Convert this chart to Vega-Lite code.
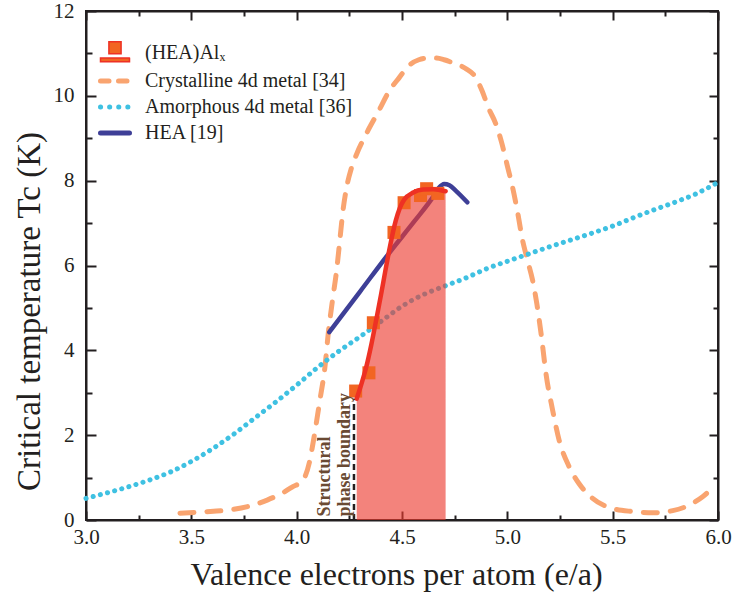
{
  "$schema": "https://vega.github.io/schema/vega-lite/v6.json",
  "width": 632,
  "height": 509,
  "autosize": {"type": "none"},
  "padding": {"left": 86, "top": 11, "right": 14, "bottom": 74},
  "background": "white",
  "config": {
    "view": {"stroke": "#231F20", "strokeWidth": 2},
    "font": "Liberation Serif",
    "axis": {
      "grid": false,
      "domainColor": "#231F20",
      "domainWidth": 2,
      "tickColor": "#231F20",
      "tickWidth": 2,
      "labelFont": "Liberation Serif",
      "labelFontSize": 21,
      "labelColor": "#231F20",
      "labelFlush": false,
      "labelOverlap": false,
      "titleFont": "Liberation Serif",
      "titleFontSize": 30,
      "titleFontWeight": "normal",
      "titleColor": "#231F20"
    }
  },
  "datasets": {
    "curves": [
      {"series": "Crystalline 4d metal [34]", "x": 3.446, "y": 0.16},
      {"series": "Crystalline 4d metal [34]", "x": 3.55, "y": 0.19},
      {"series": "Crystalline 4d metal [34]", "x": 3.7, "y": 0.25},
      {"series": "Crystalline 4d metal [34]", "x": 3.8, "y": 0.36},
      {"series": "Crystalline 4d metal [34]", "x": 3.86, "y": 0.47},
      {"series": "Crystalline 4d metal [34]", "x": 3.93, "y": 0.63},
      {"series": "Crystalline 4d metal [34]", "x": 3.98, "y": 0.78},
      {"series": "Crystalline 4d metal [34]", "x": 4.03, "y": 0.94},
      {"series": "Crystalline 4d metal [34]", "x": 4.06, "y": 1.35},
      {"series": "Crystalline 4d metal [34]", "x": 4.08, "y": 1.88},
      {"series": "Crystalline 4d metal [34]", "x": 4.11, "y": 2.82},
      {"series": "Crystalline 4d metal [34]", "x": 4.134, "y": 3.6},
      {"series": "Crystalline 4d metal [34]", "x": 4.15, "y": 4.4},
      {"series": "Crystalline 4d metal [34]", "x": 4.17, "y": 5.18},
      {"series": "Crystalline 4d metal [34]", "x": 4.19, "y": 5.9},
      {"series": "Crystalline 4d metal [34]", "x": 4.205, "y": 6.6},
      {"series": "Crystalline 4d metal [34]", "x": 4.22, "y": 7.3},
      {"series": "Crystalline 4d metal [34]", "x": 4.237, "y": 7.84},
      {"series": "Crystalline 4d metal [34]", "x": 4.26, "y": 8.3},
      {"series": "Crystalline 4d metal [34]", "x": 4.285, "y": 8.63},
      {"series": "Crystalline 4d metal [34]", "x": 4.33, "y": 9.1},
      {"series": "Crystalline 4d metal [34]", "x": 4.39, "y": 9.65},
      {"series": "Crystalline 4d metal [34]", "x": 4.44, "y": 10.12},
      {"series": "Crystalline 4d metal [34]", "x": 4.487, "y": 10.43},
      {"series": "Crystalline 4d metal [34]", "x": 4.534, "y": 10.72},
      {"series": "Crystalline 4d metal [34]", "x": 4.58, "y": 10.85},
      {"series": "Crystalline 4d metal [34]", "x": 4.62, "y": 10.89},
      {"series": "Crystalline 4d metal [34]", "x": 4.66, "y": 10.89},
      {"series": "Crystalline 4d metal [34]", "x": 4.7, "y": 10.85},
      {"series": "Crystalline 4d metal [34]", "x": 4.74, "y": 10.78},
      {"series": "Crystalline 4d metal [34]", "x": 4.8, "y": 10.65},
      {"series": "Crystalline 4d metal [34]", "x": 4.85, "y": 10.43},
      {"series": "Crystalline 4d metal [34]", "x": 4.88, "y": 10.12},
      {"series": "Crystalline 4d metal [34]", "x": 4.91, "y": 9.72},
      {"series": "Crystalline 4d metal [34]", "x": 4.946, "y": 9.33},
      {"series": "Crystalline 4d metal [34]", "x": 4.975, "y": 8.86},
      {"series": "Crystalline 4d metal [34]", "x": 5.0, "y": 8.35},
      {"series": "Crystalline 4d metal [34]", "x": 5.025, "y": 7.84},
      {"series": "Crystalline 4d metal [34]", "x": 5.05, "y": 7.22},
      {"series": "Crystalline 4d metal [34]", "x": 5.07, "y": 6.65},
      {"series": "Crystalline 4d metal [34]", "x": 5.096, "y": 6.12},
      {"series": "Crystalline 4d metal [34]", "x": 5.12, "y": 5.65},
      {"series": "Crystalline 4d metal [34]", "x": 5.14, "y": 5.1},
      {"series": "Crystalline 4d metal [34]", "x": 5.16, "y": 4.4},
      {"series": "Crystalline 4d metal [34]", "x": 5.185, "y": 3.4},
      {"series": "Crystalline 4d metal [34]", "x": 5.215, "y": 2.59},
      {"series": "Crystalline 4d metal [34]", "x": 5.246, "y": 1.88},
      {"series": "Crystalline 4d metal [34]", "x": 5.294, "y": 1.25},
      {"series": "Crystalline 4d metal [34]", "x": 5.34, "y": 0.86},
      {"series": "Crystalline 4d metal [34]", "x": 5.405, "y": 0.51},
      {"series": "Crystalline 4d metal [34]", "x": 5.5, "y": 0.27},
      {"series": "Crystalline 4d metal [34]", "x": 5.594, "y": 0.2},
      {"series": "Crystalline 4d metal [34]", "x": 5.69, "y": 0.17},
      {"series": "Crystalline 4d metal [34]", "x": 5.785, "y": 0.22},
      {"series": "Crystalline 4d metal [34]", "x": 5.863, "y": 0.35},
      {"series": "Crystalline 4d metal [34]", "x": 5.927, "y": 0.55},
      {"series": "Crystalline 4d metal [34]", "x": 5.974, "y": 0.75},
      {"series": "Amorphous 4d metal [36]", "x": 3.0, "y": 0.51},
      {"series": "Amorphous 4d metal [36]", "x": 3.1, "y": 0.64},
      {"series": "Amorphous 4d metal [36]", "x": 3.2, "y": 0.78},
      {"series": "Amorphous 4d metal [36]", "x": 3.3, "y": 0.94},
      {"series": "Amorphous 4d metal [36]", "x": 3.4, "y": 1.13},
      {"series": "Amorphous 4d metal [36]", "x": 3.5, "y": 1.38},
      {"series": "Amorphous 4d metal [36]", "x": 3.6, "y": 1.68},
      {"series": "Amorphous 4d metal [36]", "x": 3.7, "y": 2.02},
      {"series": "Amorphous 4d metal [36]", "x": 3.8, "y": 2.4},
      {"series": "Amorphous 4d metal [36]", "x": 3.9, "y": 2.78},
      {"series": "Amorphous 4d metal [36]", "x": 4.0, "y": 3.18},
      {"series": "Amorphous 4d metal [36]", "x": 4.1, "y": 3.6},
      {"series": "Amorphous 4d metal [36]", "x": 4.2, "y": 3.98},
      {"series": "Amorphous 4d metal [36]", "x": 4.3, "y": 4.32},
      {"series": "Amorphous 4d metal [36]", "x": 4.4, "y": 4.68},
      {"series": "Amorphous 4d metal [36]", "x": 4.5, "y": 5.04},
      {"series": "Amorphous 4d metal [36]", "x": 4.6, "y": 5.31},
      {"series": "Amorphous 4d metal [36]", "x": 4.7, "y": 5.51},
      {"series": "Amorphous 4d metal [36]", "x": 4.8, "y": 5.7},
      {"series": "Amorphous 4d metal [36]", "x": 4.9, "y": 5.92},
      {"series": "Amorphous 4d metal [36]", "x": 5.0, "y": 6.1},
      {"series": "Amorphous 4d metal [36]", "x": 5.1, "y": 6.27},
      {"series": "Amorphous 4d metal [36]", "x": 5.2, "y": 6.44},
      {"series": "Amorphous 4d metal [36]", "x": 5.3, "y": 6.6},
      {"series": "Amorphous 4d metal [36]", "x": 5.4, "y": 6.76},
      {"series": "Amorphous 4d metal [36]", "x": 5.5, "y": 6.93},
      {"series": "Amorphous 4d metal [36]", "x": 5.6, "y": 7.13},
      {"series": "Amorphous 4d metal [36]", "x": 5.7, "y": 7.32},
      {"series": "Amorphous 4d metal [36]", "x": 5.8, "y": 7.5},
      {"series": "Amorphous 4d metal [36]", "x": 5.9, "y": 7.7},
      {"series": "Amorphous 4d metal [36]", "x": 6.0, "y": 7.96},
      {"series": "HEA [19]", "x": 4.155, "y": 4.43},
      {"series": "HEA [19]", "x": 4.3, "y": 5.38},
      {"series": "HEA [19]", "x": 4.44, "y": 6.3},
      {"series": "HEA [19]", "x": 4.56, "y": 7.05},
      {"series": "HEA [19]", "x": 4.645, "y": 7.6},
      {"series": "HEA [19]", "x": 4.675, "y": 7.83},
      {"series": "HEA [19]", "x": 4.7, "y": 7.92},
      {"series": "HEA [19]", "x": 4.725, "y": 7.89},
      {"series": "HEA [19]", "x": 4.756, "y": 7.76},
      {"series": "HEA [19]", "x": 4.81, "y": 7.49}
    ],
    "fit": [
      {"series": "(HEA)Alₓ", "x": 4.285, "y": 2.86},
      {"series": "(HEA)Alₓ", "x": 4.31, "y": 3.25},
      {"series": "(HEA)Alₓ", "x": 4.33, "y": 3.6},
      {"series": "(HEA)Alₓ", "x": 4.355, "y": 4.15},
      {"series": "(HEA)Alₓ", "x": 4.38, "y": 4.78},
      {"series": "(HEA)Alₓ", "x": 4.4, "y": 5.3},
      {"series": "(HEA)Alₓ", "x": 4.42, "y": 5.85},
      {"series": "(HEA)Alₓ", "x": 4.443, "y": 6.45},
      {"series": "(HEA)Alₓ", "x": 4.47, "y": 7.05},
      {"series": "(HEA)Alₓ", "x": 4.49, "y": 7.36},
      {"series": "(HEA)Alₓ", "x": 4.51, "y": 7.55},
      {"series": "(HEA)Alₓ", "x": 4.553, "y": 7.72},
      {"series": "(HEA)Alₓ", "x": 4.6, "y": 7.79},
      {"series": "(HEA)Alₓ", "x": 4.65, "y": 7.8},
      {"series": "(HEA)Alₓ", "x": 4.707, "y": 7.75}
    ],
    "samples": [
      {"x": 4.28, "y": 3.04},
      {"x": 4.343, "y": 3.47},
      {"x": 4.364, "y": 4.65},
      {"x": 4.462, "y": 6.78},
      {"x": 4.51, "y": 7.48},
      {"x": 4.588, "y": 7.65},
      {"x": 4.617, "y": 7.81},
      {"x": 4.67, "y": 7.7}
    ],
    "boundary": [{"x": 4.272, "y": 0, "y2": 2.86}],
    "note": [{"x": 4.09, "y": 0.08, "label": ["Structural", "phase boundary"]}]
  },
  "resolve": {"axis": {"x": "independent", "y": "independent"}},
  "layer": [
    {
      "data": {"name": "curves"},
      "transform": [{"filter": "datum.series === 'Crystalline 4d metal [34]'"}],
      "mark": {"type": "line", "strokeWidth": 5, "strokeDash": [14, 13], "strokeCap": "round", "interpolate": "monotone"},
      "encoding": {
        "x": {
          "field": "x", "type": "quantitative",
          "scale": {"domain": [3, 6], "nice": false, "zero": false},
          "axis": {
            "orient": "bottom",
            "values": [3, 3.25, 3.5, 3.75, 4, 4.25, 4.5, 4.75, 5, 5.25, 5.5, 5.75, 6],
            "labelExpr": "datum.value % 0.5 === 0 ? format(datum.value, '.1f') : ''",
            "tickSize": {"condition": {"test": "datum.value % 0.5 === 0", "value": -9}, "value": -5},
            "labelPadding": 15,
            "labelFont": "Liberation Serif",
            "labelFontSize": 21,
            "titleFont": "Liberation Serif",
            "titleFontSize": 32,
            "title": "Valence electrons per atom (e/a)",
            "titlePadding": 8,
            "titleX": 310
          }
        },
        "y": {
          "field": "y", "type": "quantitative",
          "scale": {"domain": [0, 12], "nice": false, "zero": false},
          "axis": {
            "orient": "left",
            "values": [0, 1, 2, 3, 4, 5, 6, 7, 8, 9, 10, 11, 12],
            "labelExpr": "datum.value % 2 === 0 ? format(datum.value, 'd') : ''",
            "tickSize": {"condition": {"test": "datum.value % 2 === 0", "value": -10}, "value": -6},
            "labelPadding": 22,
            "labelFont": "Liberation Serif",
            "labelFontSize": 21,
            "titleFont": "Liberation Serif",
            "titleFontSize": 33,
            "title": "Critical temperature Tc (K)",
            "titlePadding": 7,
            "titleY": 300
          }
        },
        "color": {
          "field": "series", "type": "nominal",
          "scale": {
            "domain": ["(HEA)Alₓ", "Crystalline 4d metal [34]", "Amorphous 4d metal [36]", "HEA [19]"],
            "range": ["#EE3124", "#F9A470", "#3FC1E2", "#3E3F97"]
          },
          "legend": {
            "orient": "none",
            "legendX": 19,
            "legendY": 32,
            "title": null,
            "padding": 0,
            "symbolType": "stroke",
            "symbolSize": 841,
            "symbolStrokeWidth": 5,
            "labelFont": "Liberation Serif",
            "labelFontSize": 20,
            "labelColor": "#231F20",
            "labelOffset": 20,
            "labelLimit": 400,
            "rowPadding": 6,
            "encode": {
              "symbols": {
                "update": {
                  "shape": {"signal": "datum.value === '(HEA)Alₓ' ? 'M-1,0.34H1V0.6H-1Z M-0.42,-0.78H0.42V0.06H-0.42Z' : 'stroke'"},
                  "fill": {"signal": "datum.value === '(HEA)Alₓ' ? '#F26522' : 'transparent'"},
                  "strokeWidth": {"signal": "datum.value === '(HEA)Alₓ' ? 1.5 : 5"},
                  "strokeDash": {"signal": "datum.value === 'Crystalline 4d metal [34]' ? [8.5, 9.5] : (datum.value === 'Amorphous 4d metal [36]' ? [0.1, 9] : [1, 0])"},
                  "strokeCap": {"value": "round"}
                }
              }
            }
          }
        }
      }
    },
    {
      "data": {"name": "curves"},
      "transform": [{"filter": "datum.series === 'Amorphous 4d metal [36]'"}],
      "mark": {"type": "line", "strokeWidth": 5, "strokeDash": [0.1, 7.3], "strokeCap": "round", "interpolate": "monotone"},
      "encoding": {
        "x": {"field": "x", "type": "quantitative", "scale": {"domain": [3, 6], "nice": false, "zero": false}, "axis": null},
        "y": {"field": "y", "type": "quantitative", "scale": {"domain": [0, 12], "nice": false, "zero": false}, "axis": null},
        "color": {"field": "series", "type": "nominal"}
      }
    },
    {
      "data": {"name": "curves"},
      "transform": [{"filter": "datum.series === 'HEA [19]'"}],
      "mark": {"type": "line", "strokeWidth": 4.5, "strokeCap": "round", "interpolate": "monotone"},
      "encoding": {
        "x": {"field": "x", "type": "quantitative", "scale": {"domain": [3, 6], "nice": false, "zero": false}, "axis": null},
        "y": {"field": "y", "type": "quantitative", "scale": {"domain": [0, 12], "nice": false, "zero": false}, "axis": null},
        "color": {"field": "series", "type": "nominal"}
      }
    },
    {
      "data": {"name": "fit"},
      "mark": {"type": "area", "color": "#EC3B2F", "opacity": 0.63, "interpolate": "monotone"},
      "encoding": {
        "x": {"field": "x", "type": "quantitative", "scale": {"domain": [3, 6], "nice": false, "zero": false}, "axis": null},
        "y": {"field": "y", "type": "quantitative", "scale": {"domain": [0, 12], "nice": false, "zero": false}, "axis": null}
      }
    },
    {
      "data": {"name": "boundary"},
      "mark": {"type": "rule", "color": "#231F20", "strokeWidth": 2.5, "strokeDash": [6, 4]},
      "encoding": {
        "x": {"field": "x", "type": "quantitative", "scale": {"domain": [3, 6], "nice": false, "zero": false}, "axis": null},
        "y": {"field": "y", "type": "quantitative", "scale": {"domain": [0, 12], "nice": false, "zero": false}, "axis": null},
        "y2": {"field": "y2"}
      }
    },
    {
      "data": {"name": "samples"},
      "mark": {"type": "point", "shape": "square", "filled": true, "color": "#F26522", "opacity": 1, "size": 170},
      "encoding": {
        "x": {
          "field": "x", "type": "quantitative",
          "scale": {"domain": [3, 6], "nice": false, "zero": false},
          "axis": {
            "orient": "top",
            "values": [3, 3.25, 3.5, 3.75, 4, 4.25, 4.5, 4.75, 5, 5.25, 5.5, 5.75, 6],
            "labels": false,
            "title": null,
            "tickSize": {"condition": {"test": "datum.value % 0.5 === 0", "value": -9}, "value": -5}
          }
        },
        "y": {
          "field": "y", "type": "quantitative",
          "scale": {"domain": [0, 12], "nice": false, "zero": false},
          "axis": {
            "orient": "right",
            "values": [0, 1, 2, 3, 4, 5, 6, 7, 8, 9, 10, 11, 12],
            "labels": false,
            "title": null,
            "tickSize": {"condition": {"test": "datum.value % 2 === 0", "value": -9}, "value": -5}
          }
        }
      }
    },
    {
      "data": {"name": "fit"},
      "mark": {"type": "line", "strokeWidth": 4.5, "strokeCap": "round", "interpolate": "monotone"},
      "encoding": {
        "x": {"field": "x", "type": "quantitative", "scale": {"domain": [3, 6], "nice": false, "zero": false}, "axis": null},
        "y": {"field": "y", "type": "quantitative", "scale": {"domain": [0, 12], "nice": false, "zero": false}, "axis": null},
        "color": {"field": "series", "type": "nominal"}
      }
    },
    {
      "data": {"name": "note"},
      "mark": {"type": "text", "angle": 270, "align": "left", "baseline": "top", "font": "Liberation Serif", "fontWeight": "bold", "fontSize": 18, "lineHeight": 20, "color": "#6A4A33"},
      "encoding": {
        "x": {"field": "x", "type": "quantitative", "scale": {"domain": [3, 6], "nice": false, "zero": false}, "axis": null},
        "y": {"field": "y", "type": "quantitative", "scale": {"domain": [0, 12], "nice": false, "zero": false}, "axis": null},
        "text": {"field": "label"}
      }
    }
  ]
}
